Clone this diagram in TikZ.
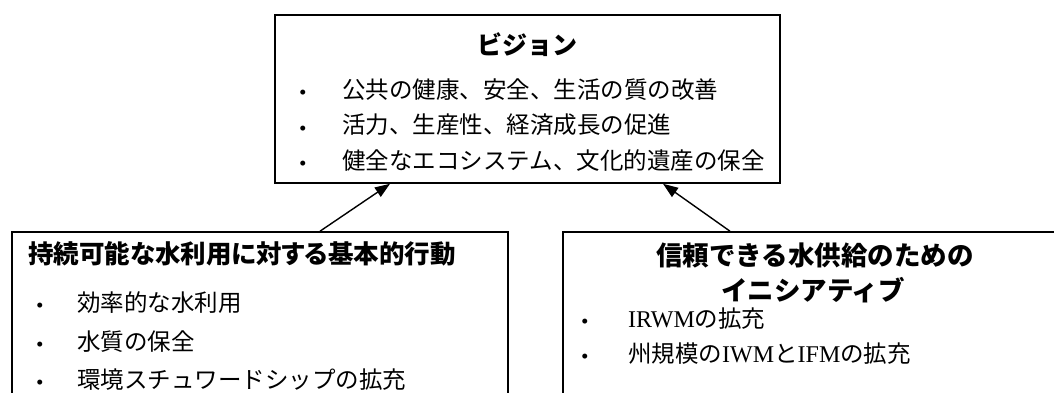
\documentclass[tikz,border=0pt]{standalone}
\usepackage{fontspec}
\setmainfont{Liberation Serif}
\newfontfamily\cjk{Noto Sans CJK JP}
\newfontfamily\cjkp[RawFeature=+palt]{Noto Sans CJK JP}
\usetikzlibrary{arrows.meta}
\tikzset{
  box/.style={draw, line width=1.6pt, rectangle, inner sep=0pt},
  arr/.style={line width=1.4pt, -{Triangle[length=15pt,width=11pt]}},
  head/.style={inner sep=0pt, anchor=base, font=\cjk\bfseries\fontsize{26.5}{30}\selectfont},
  txt/.style={inner sep=0pt, anchor=base west, font=\cjk\fontsize{23.5}{27}\selectfont},
  dot/.style={inner sep=0pt, anchor=base, yshift=-3pt, font=\cjk\fontsize{23.5}{27}\selectfont},
}
\begin{document}
\begin{tikzpicture}[x=1pt,y=-1pt]
\useasboundingbox (0,0) rectangle (1054,393);
\clip (0,0) rectangle (1054,393);
% boxes
\node[box, minimum width=505pt, minimum height=168pt] (vision) at (527.5,99) {};
\node[box, minimum width=496pt, minimum height=200pt] (lbox) at (260,332) {};
\node[box, minimum width=510pt, minimum height=200pt] (rbox) at (818,332) {};
% vision text
\node[head, font=\cjk\bfseries\fontsize{25}{30}\selectfont] (vt) at (527,54.5) {ビジョン};
\node[dot] (vd1) at (303,99) {・};
\node[dot] (vd2) at (303,134) {・};
\node[dot] (vd3) at (303,169) {・};
\node[txt] (v1) at (342,99) {公共の健康、安全、生活の質の改善};
\node[txt] (v2) at (342,134) {活力、生産性、経済成長の促進};
\node[txt] (v3) at (342,169) {健全なエコシステム、文化的遺産の保全};
% left box text
\node[head, anchor=base west, font=\cjkp\bfseries\fontsize{25.5}{30}\selectfont] (lt) at (28,263) {持続可能な水利用に対する基本的行動};
\node[dot] (ld1) at (40,311) {・};
\node[dot] (ld2) at (40,350) {・};
\node[dot] (ld3) at (40,388) {・};
\node[txt] (l1) at (77,311) {効率的な水利用};
\node[txt] (l2) at (77,350) {水質の保全};
\node[txt] (l3) at (77,388) {環境スチュワードシップの拡充};
% right box text
\node[head] (rt1) at (815,265) {信頼できる水供給のための};
\node[head] (rt2) at (813,300) {イニシアティブ};
\node[dot] (rd1) at (585,327) {・};
\node[dot] (rd2) at (585,362) {・};
\node[txt] (r1) at (628,327) {\fontsize{24}{27}\rmfamily IRWM{\cjk\fontsize{23.5}{27}\selectfont の拡充}};
\node[txt] (r2) at (628,362) {州規模の{\fontsize{24}{27}\rmfamily IWM}と{\fontsize{24}{27}\rmfamily IFM}の拡充};
% arrows
\coordinate (a1s) at (320,0);
\coordinate (a1e) at (390,0);
\coordinate (a2s) at (730,0);
\coordinate (a2e) at (663,0);
\draw[arr] (lbox.north -| a1s) -- (vision.south -| a1e);
\draw[arr] (rbox.north -| a2s) -- (vision.south -| a2e);
\end{tikzpicture}
\end{document}
